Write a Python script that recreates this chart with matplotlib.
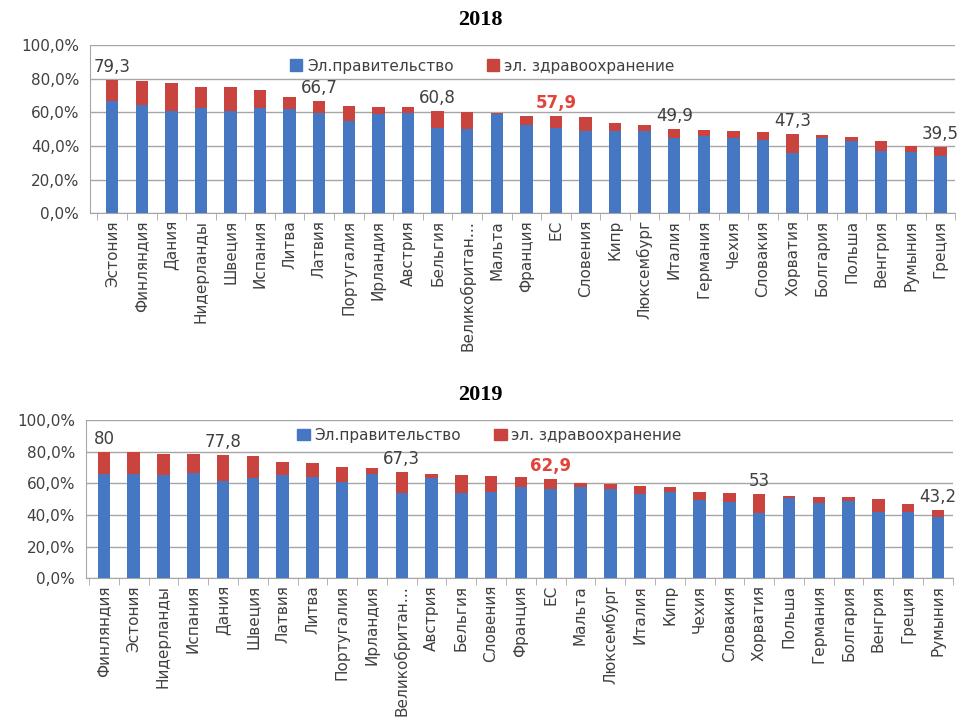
import numpy as np
import matplotlib.pyplot as plt
from matplotlib.ticker import FuncFormatter
from matplotlib.patches import Patch

plt.rcParams['font.family'] = ['DejaVu Sans']

# Данные за 2018 год
countries_2018 = ['Эстония', 'Финляндия', 'Дания', 'Нидерланды', 'Швеция', 'Испания',
                  'Литва', 'Латвия', 'Португалия', 'Ирландия', 'Австрия', 'Бельгия',
                  'Великобритан…', 'Мальта', 'Франция', 'ЕС', 'Словения', 'Кипр',
                  'Люксембург', 'Италия', 'Германия', 'Чехия', 'Словакия', 'Хорватия',
                  'Болгария', 'Польша', 'Венгрия', 'Румыния', 'Греция']
total_2018 = [79.3, 78.7, 77.3, 75.1, 75.1, 73.1, 69.3, 66.7, 63.7, 63.3, 63.3, 60.8,
              60.2, 59.8, 57.8, 57.9, 57.4, 53.4, 52.4, 49.9, 49.4, 48.8, 48.4, 47.3,
              46.8, 45.4, 42.8, 40.2, 39.5]
gov_2018 = [66.5, 64.1, 60.5, 62.7, 60.8, 62.7, 62.2, 59.8, 54.8, 58.8, 59.8, 50.8,
            49.8, 59.0, 52.2, 50.8, 48.8, 48.8, 48.8, 44.8, 45.8, 44.8, 43.8, 35.9,
            44.8, 42.8, 36.9, 36.3, 34.3]
labeled_2018 = ['Эстония', 'Латвия', 'Бельгия', 'ЕС', 'Италия', 'Хорватия', 'Греция']

# Данные за 2019 год
countries_2019 = ['Финляндия', 'Эстония', 'Нидерланды', 'Испания', 'Дания', 'Швеция',
                  'Латвия', 'Литва', 'Португалия', 'Ирландия', 'Великобритан…',
                  'Австрия', 'Бельгия', 'Словения', 'Франция', 'ЕС', 'Мальта',
                  'Люксембург', 'Италия', 'Кипр', 'Чехия', 'Словакия', 'Хорватия',
                  'Польша', 'Германия', 'Болгария', 'Венгрия', 'Греция', 'Румыния']
total_2019 = [80.0, 79.8, 78.9, 78.9, 77.8, 77.3, 73.7, 73.1, 70.5, 69.5, 67.3, 65.9,
              65.3, 64.6, 63.8, 62.9, 60.0, 59.6, 58.3, 57.9, 54.7, 53.7, 53.0, 52.0,
              51.6, 51.6, 49.9, 46.7, 43.2]
gov_2019 = [65.9, 65.9, 65.3, 66.7, 61.7, 63.2, 65.3, 64.2, 61.1, 65.9, 54.1, 63.2,
            54.1, 54.7, 57.5, 56.2, 57.9, 56.2, 53.3, 54.7, 49.5, 48.4, 41.1, 50.5,
            47.8, 49.0, 42.1, 42.1, 38.5]
labeled_2019 = ['Финляндия', 'Дания', 'Великобритан…', 'ЕС', 'Хорватия', 'Румыния']

blue = '#4577C2'
red = '#C9443F'
grid_col = '#A6A6A6'
text_col = '#404040'


def draw_panel(ax, countries, total, gov, labeled, xlim):
    x = np.arange(len(countries))
    total = np.array(total)
    gov = np.array(gov)
    ax.bar(x, gov, width=0.42, color=blue, zorder=3)
    ax.bar(x, total - gov, bottom=gov, width=0.42, color=red, zorder=3)

    # подписи значений над выбранными столбцами
    for i, name in enumerate(countries):
        if name in labeled:
            txt = f'{total[i]:g}'.replace('.', ',')
            is_eu = name == 'ЕС'
            ax.annotate(txt, (x[i], total[i]), xytext=(0, 3), textcoords='offset points',
                        ha='center', va='bottom', fontsize=12,
                        color='#E0443A' if is_eu else text_col,
                        fontweight='bold' if is_eu else 'normal', zorder=4)

    ax.set_ylim(0, 100)
    ax.set_xlim(*xlim)
    ax.set_yticks(np.arange(0, 101, 20))
    ax.yaxis.set_major_formatter(FuncFormatter(lambda v, p: f'{v:.1f}%'.replace('.', ',')))
    ax.set_xticks(x)
    ax.set_xticklabels(countries, rotation=90, fontsize=11, color=text_col)
    ax.set_xticks(np.arange(-0.5, len(countries), 1), minor=True)
    ax.tick_params(axis='x', which='major', length=0, pad=5)
    ax.tick_params(axis='x', which='minor', length=5, color=grid_col)
    ax.tick_params(axis='y', length=0, labelsize=11, labelcolor=text_col, pad=8)
    ax.grid(axis='y', color=grid_col, linewidth=1, zorder=0)
    for side in ['top', 'right']:
        ax.spines[side].set_visible(False)
    for side in ['left', 'bottom']:
        ax.spines[side].set_color(grid_col)

    handles = [Patch(color=blue, label='Эл.правительство'),
               Patch(color=red, label='эл. здравоохранение')]
    return handles


fig = plt.figure(figsize=(9.61, 7.2), dpi=100)
ax1 = fig.add_axes([0.094, 0.704, 0.9, 0.2333])
ax2 = fig.add_axes([0.0895, 0.197, 0.902, 0.2194])

h1 = draw_panel(ax1, countries_2018, total_2018, gov_2018, labeled_2018, (-0.74, 28.5))
h2 = draw_panel(ax2, countries_2019, total_2019, gov_2019, labeled_2019, (-0.6, 28.3))

ax1.legend(handles=h1, ncol=2, loc='center left', bbox_to_anchor=(0.215, 0.875),
           frameon=False, fontsize=11, handlelength=0.8, handleheight=0.8,
           handletextpad=0.3, columnspacing=2.2, labelcolor=text_col)
ax2.legend(handles=h2, ncol=2, loc='center left', bbox_to_anchor=(0.228, 0.905),
           frameon=False, fontsize=11, handlelength=0.8, handleheight=0.8,
           handletextpad=0.3, columnspacing=2.2, labelcolor=text_col)

fig.text(0.5, 0.972, '2018', ha='center', va='center', fontsize=16,
         fontweight='bold', family='Liberation Serif')
fig.text(0.5, 0.451, '2019', ha='center', va='center', fontsize=16,
         fontweight='bold', family='Liberation Serif')

fig.savefig('out.png', dpi=100)
